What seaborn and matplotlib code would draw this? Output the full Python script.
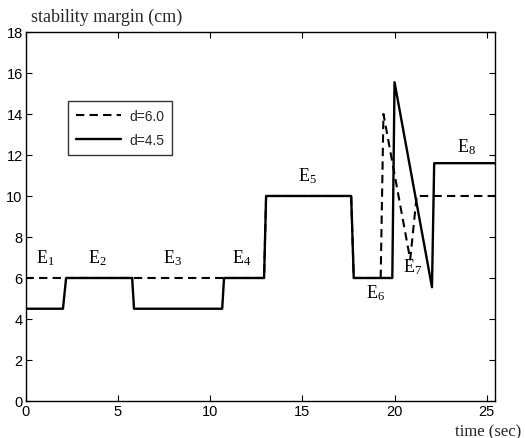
import matplotlib
matplotlib.use("Agg")
import matplotlib.pyplot as plt
import seaborn as sns
import pandas as pd

# d = 4.5 (solid)
t_45 = [0, 2.03, 2.2, 5.78, 5.88, 10.66, 10.76, 12.93, 13.04, 17.65, 17.79, 19.88, 20.0, 22.03, 22.15, 25.5]
m_45 = [4.5, 4.5, 6, 6, 4.5, 4.5, 6, 6, 10, 10, 6, 6, 15.55, 5.55, 11.6, 11.6]
# d = 6.0 (dashed)
t_60 = [0, 12.93, 13.04, 17.65, 17.79, 19.25, 19.3, 19.4, 20.85, 21.2, 25.5]
m_60 = [6, 6, 10, 10, 6, 6, 8.7, 14.0, 6.9, 10.0, 10.0]

event_labels = ["1", "2", "3", "4", "5", "6", "7", "8"]
event_x = [0.57, 3.4, 7.47, 11.2, 14.78, 18.47, 20.45, 23.4]
event_y = [7.0, 7.0, 7.0, 7.0, 11.0, 5.3, 6.6, 12.45]

x_ticks = [0, 5, 10, 15, 20, 25]
y_ticks = [0, 2, 4, 6, 8, 10, 12, 14, 16, 18]

sns.set_style("ticks")
plt.rcParams["font.family"] = ["Liberation Sans", "DejaVu Sans"]
plt.rcParams["mathtext.fontset"] = "custom"
plt.rcParams["mathtext.rm"] = "Liberation Serif"
plt.rcParams["mathtext.it"] = "Liberation Serif:italic"

fig = plt.figure(figsize=(5.25, 4.39), dpi=100)
ax = fig.add_axes([0.0486, 0.0843, 0.8944, 0.8406])

df60 = pd.DataFrame({"t": t_60, "m": m_60})
df45 = pd.DataFrame({"t": t_45, "m": m_45})
sns.lineplot(data=df60, x="t", y="m", sort=False, ax=ax, color="black",
             linewidth=1.5, label="d=6.0", dashes=False)
ax.lines[-1].set_dashes((4, 2.5))
sns.lineplot(data=df45, x="t", y="m", sort=False, ax=ax, color="black",
             linewidth=1.7, label="d=4.5")

for lab, x, y in zip(event_labels, event_x, event_y):
    ax.text(x, y, r"$\mathrm{E}_{" + lab + "}$", fontsize=13, ha="left", va="center",
            color="black")

ax.set_xlim(0, 25.45)
ax.set_ylim(0, 18)
ax.set_xticks(x_ticks)
ax.set_yticks(y_ticks)
ax.set_xlabel("")
ax.set_ylabel("")
ax.tick_params(direction="in", top=True, right=True, length=4, width=0.8,
               labelsize=10.5, colors="black", pad=2)
for s in ax.spines.values():
    s.set_visible(True)
    s.set_color("black")
    s.set_linewidth(1.0)

leg = ax.legend(loc="upper left", bbox_to_anchor=(0.0905, 0.813), fontsize=10,
                frameon=True, fancybox=False, edgecolor="black", handlelength=3.2,
                borderpad=0.6, labelspacing=0.7, handletextpad=0.6,
                borderaxespad=0)
leg.get_frame().set_linewidth(1.0)

fig.text(31 / 525, 1 - 17 / 439, "stability margin (cm)", family="Liberation Serif",
         fontsize=13, ha="left", va="center")
fig.text(521 / 525, 1 - 432 / 439, "time (sec)", family="Liberation Serif",
         fontsize=12, ha="right", va="center")

fig.savefig("out.png", dpi=100, facecolor="white")
